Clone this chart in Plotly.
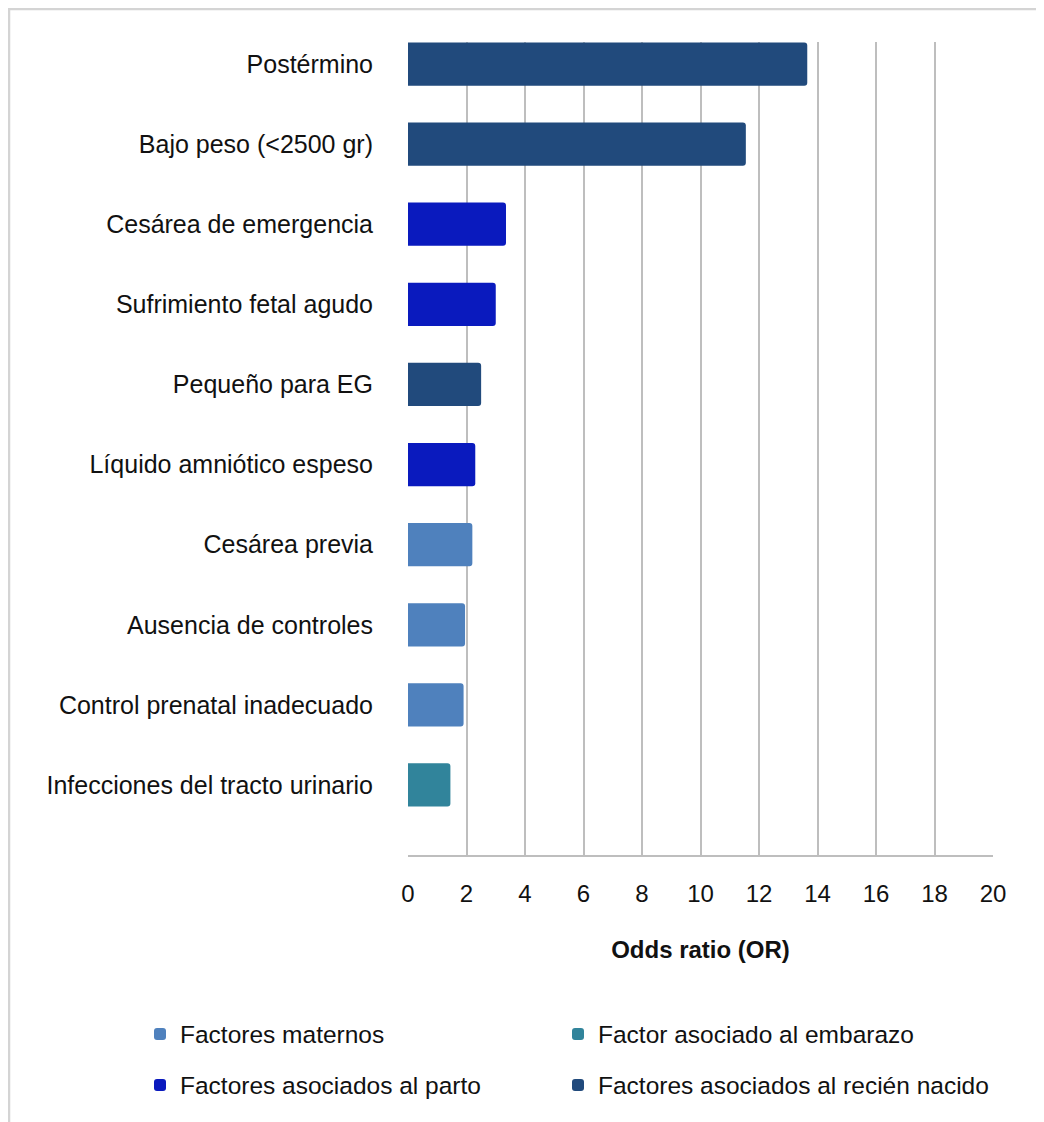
import plotly.graph_objects as go

categories = ["Postérmino", "Bajo peso (<2500 gr)", "Cesárea de emergencia",
              "Sufrimiento fetal agudo", "Pequeño para EG", "Líquido amniótico espeso",
              "Cesárea previa", "Ausencia de controles", "Control prenatal inadecuado",
              "Infecciones del tracto urinario"]
odds_ratio = [13.65, 11.55, 3.35, 3.0, 2.5, 2.3, 2.2, 1.95, 1.9, 1.45]
groups = ["Factores asociados al recién nacido", "Factores asociados al recién nacido",
          "Factores asociados al parto", "Factores asociados al parto",
          "Factores asociados al recién nacido", "Factores asociados al parto",
          "Factores maternos", "Factores maternos", "Factores maternos",
          "Factor asociado al embarazo"]
group_order = ["Factores maternos", "Factor asociado al embarazo",
               "Factores asociados al parto", "Factores asociados al recién nacido"]
group_colors = {"Factores maternos": "#4F81BD",
                "Factor asociado al embarazo": "#31849B",
                "Factores asociados al parto": "#0A1ABE",
                "Factores asociados al recién nacido": "#214A7C"}
x_ticks = list(range(0, 21, 2))

FONT = "Liberation Sans, Arial, sans-serif"
OFF = 8  # default page body margin
W, H = 1044 - OFF, 1122 - OFF
# plot area in page pixels: x 408..993, y 42..855
L, R, T, B = 408 - OFF, 1044 - 993, 42 - OFF, 1122 - 855
pw, ph = W - L - R, H - T - B

def px_x(p):
    return (p - OFF - L) / pw

def px_y(p):
    return (H - B - (p - OFF)) / ph

# legend slots (page px of legend box left, row centre)
legend_names = ["legend", "legend2", "legend3", "legend4"]
legend_pos = [(140, 1034), (558, 1034), (140, 1085), (558, 1085)]

fig = go.Figure()
for g, lname in zip(group_order, legend_names):
    ys = [c for c, gg in zip(categories, groups) if gg == g]
    xs = [v for v, gg in zip(odds_ratio, groups) if gg == g]
    fig.add_trace(go.Bar(y=ys, x=xs, orientation="h", name=g, showlegend=True,
                         marker=dict(color=group_colors[g], line=dict(width=0)),
                         width=0.54, legend=lname))

legend_layout = {}
for lname, (lx, ly) in zip(legend_names, legend_pos):
    legend_layout[lname] = dict(orientation="h", x=px_x(lx), xanchor="left",
                                y=px_y(ly), yanchor="middle", visible=True,
                                font=dict(size=24.5), bgcolor="rgba(0,0,0,0)")

fig.update_layout(
    width=W, height=H,
    margin=dict(l=L, r=R, t=T, b=B),
    paper_bgcolor="white", plot_bgcolor="white",
    showlegend=True,
    barmode="overlay", barcornerradius=3,
    font=dict(family=FONT, size=25, color="#111111"),
    xaxis=dict(range=[0, 20], tickvals=x_ticks, showgrid=True, gridcolor="#BEBEBE",
               gridwidth=1.5, zeroline=False, showline=True, linecolor="#BEBEBE",
               linewidth=1.5, ticks="", ticklabelstandoff=16,
               tickfont=dict(size=24),
               title=dict(text="<b>Odds ratio (OR)</b>", font=dict(size=24), standoff=36),
               fixedrange=True),
    yaxis=dict(type="category", categoryorder="array", categoryarray=categories,
               range=[9.874, -0.275], showgrid=False, zeroline=False, showline=False,
               ticks="", ticklabelstandoff=34, tickfont=dict(size=25)),
    shapes=[
        dict(type="line", xref="paper", yref="paper", x0=px_x(8), x1=px_x(1044),
             y0=px_y(9), y1=px_y(9), line=dict(color="#D4D4D4", width=2.5)),
        dict(type="line", xref="paper", yref="paper", x0=px_x(9), x1=px_x(9),
             y0=px_y(9), y1=px_y(1122), line=dict(color="#D4D4D4", width=2.5)),
    ],
    **legend_layout,
)

fig.write_html("out.html")
